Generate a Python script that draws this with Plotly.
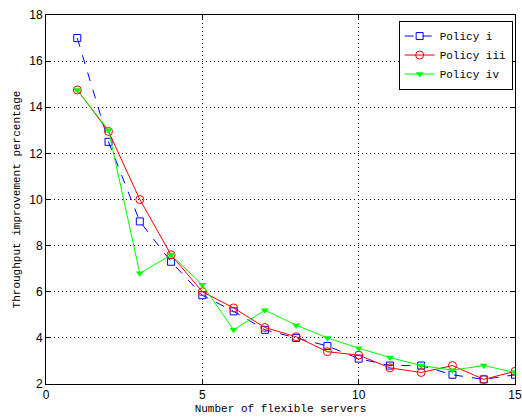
import plotly.graph_objects as go

servers = list(range(1, 16))
policy_i = [17.0, 12.5, 9.05, 7.3, 5.85, 5.15, 4.35, 4.0, 3.65, 3.1, 2.8, 2.8, 2.4, 2.2, 2.4]
policy_iii = [14.75, 12.95, 10.0, 7.6, 6.0, 5.3, 4.45, 4.05, 3.4, 3.25, 2.7, 2.5, 2.8, 2.2, 2.55]
policy_iv = [14.75, 13.0, 6.8, 7.6, 6.3, 4.35, 5.2, 4.55, 4.0, 3.55, 3.15, 2.8, 2.6, 2.8, 2.5]

x_ticks = [0, 5, 10, 15]
y_ticks = [2, 4, 6, 8, 10, 12, 14, 16, 18]

mono = "Liberation Mono, DejaVu Sans Mono, monospace"
sans = "Liberation Sans, Arial, sans-serif"

fig = go.Figure()
fig.add_trace(go.Scatter(x=servers, y=policy_i, name="Policy i", mode="lines+markers",
                         line=dict(color="#0000ff", width=1, dash="dash"),
                         marker=dict(symbol="square-open", size=7, color="#0000ff", line=dict(width=1))))
fig.add_trace(go.Scatter(x=servers, y=policy_iii, name="Policy iii", mode="lines+markers",
                         line=dict(color="#ff0000", width=1),
                         marker=dict(symbol="circle-open", size=8, color="#ff0000", line=dict(width=1))))
fig.add_trace(go.Scatter(x=servers, y=policy_iv, name="Policy iv", mode="lines+markers",
                         line=dict(color="#00ff00", width=1),
                         marker=dict(symbol="triangle-down", size=7, color="#00ff00")))

axis_common = dict(showline=True, linecolor="black", linewidth=1, mirror="ticks",
                   ticks="inside", ticklen=5, tickcolor="black",
                   showgrid=True, gridcolor="black", griddash="1px,3px", gridwidth=1,
                   zeroline=False, automargin=False,
                   tickfont=dict(family=sans, size=12, color="black"))

fig.update_layout(
    width=522, height=418,
    margin=dict(l=46, r=7, t=15, b=34),
    paper_bgcolor="white", plot_bgcolor="white",
    xaxis=dict(range=[0, 15], tickvals=x_ticks, **axis_common,
               title=dict(text="Number of flexible servers", font=dict(family=mono, size=11, color="black"), standoff=2)),
    yaxis=dict(range=[2, 18], tickvals=y_ticks, **axis_common,
               title=dict(text="Throughput improvement percentage", font=dict(family=mono, size=11, color="black"), standoff=6)),
    legend=dict(x=0.995, y=0.985, xanchor="right", yanchor="top",
                bgcolor="white", bordercolor="black", borderwidth=1,
                font=dict(family=mono, size=11, color="black"),
                tracegroupgap=0),
    showlegend=True,
)

fig.write_html("out.html",
               config={"displayModeBar": False},
               post_script="document.body.style.margin='0';document.body.style.padding='0';")
